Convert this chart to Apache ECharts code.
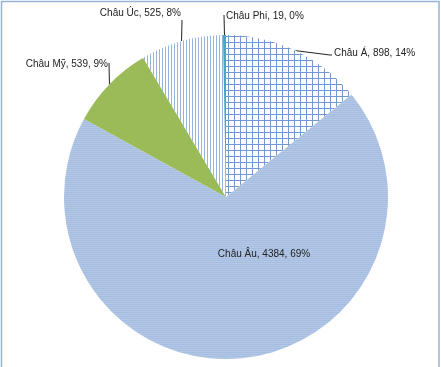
<!DOCTYPE html>
<html>
<head>
<meta charset="utf-8">
<script src="https://cdn.jsdelivr.net/npm/echarts@6/dist/echarts.min.js"></script>
<style>
html,body{margin:0;padding:0;background:#fff;}
#c{width:441px;height:367px;}
</style>
</head>
<body>
<div id="c"></div>
<script>
// ---- data ----
const categories = ['Châu Á', 'Châu Âu', 'Châu Mỹ', 'Châu Úc', 'Châu Phi'];
const values = [898, 4384, 539, 525, 19];

// ---- patterns ----
function makeCanvas(w, h, draw) {
  const c = document.createElement('canvas');
  c.width = w; c.height = h;
  const ctx = c.getContext('2d');
  draw(ctx);
  return c;
}
const gridPat = makeCanvas(6, 6, ctx => {
  ctx.fillStyle = '#ffffff'; ctx.fillRect(0, 0, 6, 6);
  ctx.fillStyle = '#7399cc'; ctx.fillRect(0, 0, 6, 1); ctx.fillRect(0, 0, 1, 6);
});
const hStripe = makeCanvas(1, 2, ctx => {
  ctx.fillStyle = '#a4bde0'; ctx.fillRect(0, 0, 1, 1);
  ctx.fillStyle = '#b4c8e6'; ctx.fillRect(0, 1, 1, 1);
});
const vStripe = makeCanvas(3, 1, ctx => {
  ctx.fillStyle = '#ffffff'; ctx.fillRect(0, 0, 3, 1);
  ctx.fillStyle = '#95b4dc'; ctx.fillRect(0, 0, 1, 1);
});
const fills = [
  { image: gridPat, repeat: 'repeat' },
  { image: hStripe, repeat: 'repeat' },
  '#9bbb59',
  { image: vStripe, repeat: 'repeat' },
  '#3fa9c9'
];

const cx = 226, cy = 197, R = 162;
// label placement relative to pie centre
const labelPlace = [
  { dx: 108, dy: -144, align: 'left', elbow: [[104, -142], [106, -142]] },
  { dx: 38, dy: 57, align: 'center', inside: true },
  { dx: -118, dy: -133, align: 'right', elbow: [[-117, -134], [-117, -134]] },
  { dx: -45, dy: -184, align: 'right', elbow: [[-44, -177], [-44, -177]] },
  { dx: 0, dy: -181, align: 'left', elbow: [[-2, -182], [-2, -182]] }
];

const chart = echarts.init(document.getElementById('c'), null, { renderer: 'canvas' });
chart.setOption({
  animation: false,
  backgroundColor: '#ffffff',
  graphic: [{
    type: 'rect',
    shape: { x: 1.5, y: 1.5, width: 437.5, height: 380 },
    style: { fill: 'none', stroke: '#95b3d7', lineWidth: 1.5 },
    silent: true
  }],
  series: [{
    type: 'pie',
    center: [cx, cy],
    radius: R,
    startAngle: 90,
    clockwise: true,
    percentPrecision: 0,
    avoidLabelOverlap: false,
    data: categories.map((n, i) => ({
      name: n,
      value: values[i],
      itemStyle: { color: fills[i] },
      label: labelPlace[i].inside ? { position: 'inside' } : {},
      labelLine: labelPlace[i].inside ? { show: false } : {}
    })),
    itemStyle: { borderWidth: 0 },
    label: {
      show: true,
      formatter: '{b}, {c}, {d}%',
      fontFamily: 'Liberation Sans',
      fontSize: 10,
      color: '#222222'
    },
    labelLine: {
      show: true,
      length: 10,
      length2: 10,
      lineStyle: { color: '#222222', width: 1 }
    },
    emphasis: { disabled: true },
    labelLayout: function (p) {
      const lp = labelPlace[p.dataIndex];
      const out = {
        x: cx + lp.dx,
        y: cy + lp.dy,
        align: lp.align,
        verticalAlign: 'middle'
      };
      if (!lp.inside && p.labelLinePoints) {
        const pts = p.labelLinePoints;
        out.labelLinePoints = [
          pts[0],
          [cx + lp.elbow[0][0], cy + lp.elbow[0][1]],
          [cx + lp.elbow[1][0], cy + lp.elbow[1][1]]
        ];
      }
      return out;
    }
  }]
});
</script>
</body>
</html>
